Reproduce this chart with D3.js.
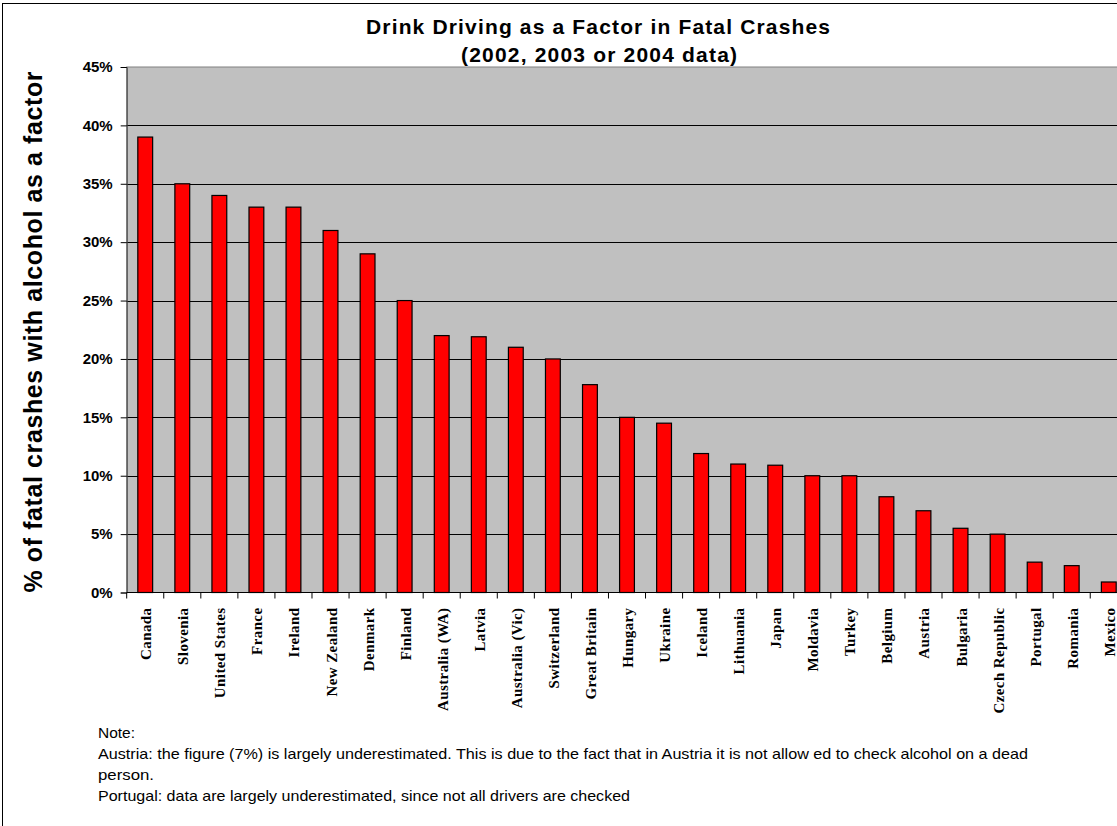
<!DOCTYPE html>
<html>
<head>
<meta charset="utf-8">
<script src="https://cdn.jsdelivr.net/npm/d3@7"></script>
<style>
  body { margin: 0; background: #fff; }
  svg { display: block; }
</style>
</head>
<body>
<div id="chart"></div>
<script>
// Chart data
var countries = ["Canada", "Slovenia", "United States", "France", "Ireland", "New Zealand",
    "Denmark", "Finland", "Australia (WA)", "Latvia", "Australia (Vic)", "Switzerland",
    "Great Britain", "Hungary", "Ukraine", "Iceland", "Lithuania", "Japan", "Moldavia",
    "Turkey", "Belgium", "Austria", "Bulgaria", "Czech Republic", "Portugal", "Romania", "Mexico"];
var shares = [0.39, 0.35, 0.34, 0.33, 0.33, 0.31, 0.29, 0.25, 0.22, 0.219, 0.21, 0.20,
    0.178, 0.15, 0.145, 0.119, 0.110, 0.109, 0.10, 0.10, 0.082, 0.07, 0.055, 0.05,
    0.026, 0.023, 0.009];
var yTicks = [0, 0.05, 0.10, 0.15, 0.20, 0.25, 0.30, 0.35, 0.40, 0.45];
var titleLines = ["Drink Driving as a Factor in Fatal Crashes", "(2002, 2003 or 2004 data)"];
var yLabel = "% of fatal crashes with alcohol as a factor";
var noteLines = ["Note:",
    "Austria: the figure (7%) is largely underestimated. This is due to the fact that in Austria it is not allow ed to check alcohol on a dead",
    "person.",
    "Portugal: data are largely underestimated, since not all drivers are checked"];

function main() {
    var width = 1117, height = 826;
    var left = 126.7, right = 1127.3, top = 67, bottom = 592.5;

    var svg = d3.select("#chart").append("svg")
        .attr("width", width)
        .attr("height", height);

    // outer chart border
    svg.append("rect")
        .attr("x", 2.5).attr("y", 3.5)
        .attr("width", width + 10).attr("height", height + 10)
        .attr("fill", "#fff").attr("stroke", "#000");

    var x = d3.scaleBand()
        .domain(countries)
        .range([left, right])
        .paddingInner(0.6)
        .paddingOuter(0.3);

    var y = d3.scaleLinear()
        .domain([0, 0.45])
        .range([bottom, top]);

    // plot area
    svg.append("rect")
        .attr("x", left).attr("y", top)
        .attr("width", right - left).attr("height", bottom - top)
        .attr("fill", "#c0c0c0").attr("stroke", "#808080");

    // gridlines
    svg.append("g").selectAll("line")
        .data(yTicks.slice(1, -1))
        .enter().append("line")
        .attr("x1", left).attr("x2", right)
        .attr("y1", function (d) { return Math.round(y(d)) + 0.5; })
        .attr("y2", function (d) { return Math.round(y(d)) + 0.5; })
        .attr("stroke", "#000");

    // bars
    svg.append("g").selectAll("rect")
        .data(countries)
        .enter().append("rect")
        .attr("x", function (d) { return x(d); })
        .attr("y", function (d, i) { return y(shares[i]); })
        .attr("width", x.bandwidth())
        .attr("height", function (d, i) { return bottom - y(shares[i]); })
        .attr("fill", "#ff0000")
        .attr("stroke", "#000")
        .attr("stroke-width", 1.2);

    // y axis
    var yAxis = svg.append("g")
        .attr("transform", "translate(" + left + ",0)")
        .call(d3.axisLeft(y).tickValues(yTicks).tickFormat(d3.format(".0%")).tickSize(6).tickPadding(8));
    yAxis.select(".domain").attr("stroke", "#404040");
    yAxis.selectAll(".tick line").attr("stroke", "#000");
    yAxis.selectAll("text")
        .attr("font-family", "Arial, 'Liberation Sans', sans-serif")
        .attr("font-weight", "bold")
        .attr("font-size", 15)
        .attr("fill", "#000");

    // x axis line and category ticks between bars
    svg.append("line")
        .attr("x1", left).attr("x2", right)
        .attr("y1", bottom).attr("y2", bottom)
        .attr("stroke", "#000");
    svg.append("g").selectAll("line")
        .data(d3.range(countries.length + 1))
        .enter().append("line")
        .attr("x1", function (i) { return left + i * x.step(); })
        .attr("x2", function (i) { return left + i * x.step(); })
        .attr("y1", bottom).attr("y2", bottom + 6)
        .attr("stroke", "#000");

    // category labels
    svg.append("g").selectAll("text")
        .data(countries)
        .enter().append("text")
        .attr("transform", function (d) {
            return "translate(" + (x(d) + x.bandwidth() / 2 + 6) + "," + (bottom + 15) + ") rotate(-90)";
        })
        .attr("text-anchor", "end")
        .attr("font-family", "'Times New Roman', 'Liberation Serif', serif")
        .attr("font-weight", "bold")
        .attr("font-size", 15)
        .attr("letter-spacing", 0.4)
        .text(function (d) { return d; });

    // title
    svg.append("text")
        .attr("x", 598).attr("y", 33.5)
        .attr("text-anchor", "middle")
        .attr("font-family", "Arial, 'Liberation Sans', sans-serif")
        .attr("font-weight", "bold")
        .attr("font-size", 21)
        .attr("textLength", 464).attr("lengthAdjust", "spacing")
        .text(titleLines[0]);
    svg.append("text")
        .attr("x", 599).attr("y", 62)
        .attr("text-anchor", "middle")
        .attr("font-family", "Arial, 'Liberation Sans', sans-serif")
        .attr("font-weight", "bold")
        .attr("font-size", 21)
        .attr("textLength", 276).attr("lengthAdjust", "spacing")
        .text(titleLines[1]);

    // y axis title
    svg.append("text")
        .attr("transform", "translate(42,332) rotate(-90)")
        .attr("text-anchor", "middle")
        .attr("font-family", "Arial, 'Liberation Sans', sans-serif")
        .attr("font-weight", "bold")
        .attr("font-size", 25)
        .attr("textLength", 521).attr("lengthAdjust", "spacing")
        .text(yLabel);

    // notes
    var noteWidths = [37, 930, 56, 532];
    svg.append("g").selectAll("text")
        .data(noteLines)
        .enter().append("text")
        .attr("x", 98)
        .attr("y", function (d, i) { return 738 + i * 21; })
        .attr("font-family", "Arial, 'Liberation Sans', sans-serif")
        .attr("font-size", 15)
        .attr("textLength", function (d, i) { return noteWidths[i]; })
        .attr("lengthAdjust", "spacingAndGlyphs")
        .text(function (d) { return d; });
}

main();
</script>
</body>
</html>
